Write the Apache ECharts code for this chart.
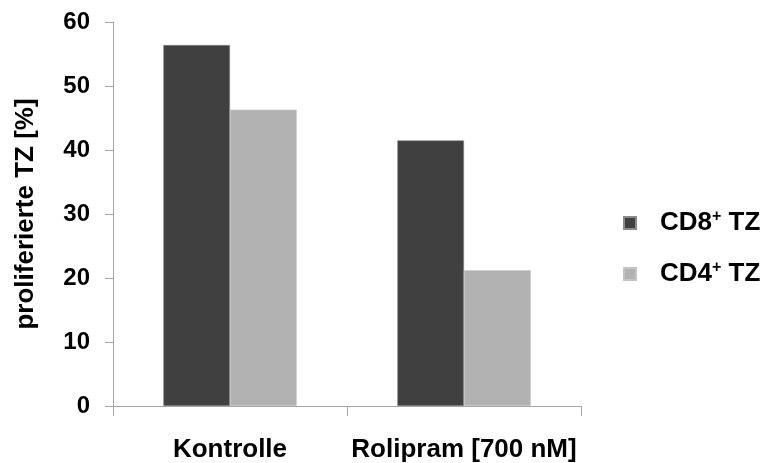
<!DOCTYPE html>
<html>
<head>
<meta charset="utf-8">
<script src="https://cdn.jsdelivr.net/npm/echarts@6/dist/echarts.min.js"></script>
<style>
  html, body { margin: 0; padding: 0; background: #fff; }
  #chart { width: 767px; height: 463px; }
</style>
</head>
<body>
<div id="chart"></div>
<script>
// Proliferating T cells (%) per condition
const categories = ['Kontrolle', 'Rolipram [700 nM]'];
const cd8Values = [56.4, 41.5];
const cd4Values = [46.3, 21.2];
const yTicks = { min: 0, max: 60, interval: 10 };
const yTitle = 'proliferierte TZ [%]';
// legend labels: base text, superscript, suffix
const seriesLabels = [
  { name: 'CD8+ TZ', base: 'CD8', sup: '+', rest: ' TZ' },
  { name: 'CD4+ TZ', base: 'CD4', sup: '+', rest: ' TZ' }
];

const FONT = '"Liberation Sans", Arial, sans-serif';
const AXIS_GREY = '#a6a6a6';

const chart = echarts.init(document.getElementById('chart'), null, { renderer: 'canvas' });

const labelByName = {};
seriesLabels.forEach(s => { labelByName[s.name] = s; });

chart.setOption({
  animation: false,
  backgroundColor: '#ffffff',
  textStyle: { fontFamily: FONT },
  grid: { left: 113, right: 186, top: 22, bottom: 56, containLabel: false },
  legend: {
    orient: 'vertical',
    left: 618,
    top: 204,
    itemWidth: 12,
    itemHeight: 12,
    itemGap: 24,
    icon: 'rect',
    data: seriesLabels.map(s => s.name),
    formatter: function (name) {
      const s = labelByName[name];
      return '{a|' + s.base + '}{s|' + s.sup + '}{a|' + s.rest + '}';
    },
    textStyle: {
      padding: [0, 0, 0, 19],
      rich: {
        a: { fontFamily: FONT, fontWeight: 'bold', fontSize: 26, color: '#000', lineHeight: 28 },
        s: { fontFamily: FONT, fontWeight: 'bold', fontSize: 16, color: '#000', lineHeight: 28, verticalAlign: 'top', padding: [0, 0, 9, 0] }
      }
    }
  },
  xAxis: {
    type: 'category',
    data: categories,
    axisLine: { show: true, lineStyle: { color: AXIS_GREY, width: 1 } },
    axisTick: { show: true, length: 10, lineStyle: { color: AXIS_GREY } },
    axisLabel: { interval: 0, color: '#000', fontWeight: 'bold', fontSize: 26, fontFamily: FONT, margin: 31 },
    splitLine: { show: false }
  },
  yAxis: {
    type: 'value',
    min: yTicks.min,
    max: yTicks.max,
    interval: yTicks.interval,
    name: yTitle,
    nameLocation: 'middle',
    nameRotate: 90,
    nameGap: 74,
    nameTextStyle: { color: '#000', fontWeight: 'bold', fontSize: 26, fontFamily: FONT },
    axisLine: { show: true, lineStyle: { color: AXIS_GREY, width: 1 } },
    axisTick: { show: true, length: 8, inside: false, lineStyle: { color: AXIS_GREY } },
    axisLabel: { color: '#000', fontWeight: 'bold', fontSize: 24, fontFamily: FONT, margin: 23 },
    splitLine: { show: false }
  },
  series: [
    {
      name: seriesLabels[0].name,
      type: 'bar',
      data: cd8Values,
      barGap: '0%',
      barCategoryGap: '43%',
      itemStyle: { color: '#404040', borderColor: '#8a8a8a', borderWidth: 0.6 }
    },
    {
      name: seriesLabels[1].name,
      type: 'bar',
      data: cd4Values,
      itemStyle: { color: '#b2b2b2', borderColor: '#c4c4c4', borderWidth: 0.6 }
    }
  ]
});
</script>
</body>
</html>
